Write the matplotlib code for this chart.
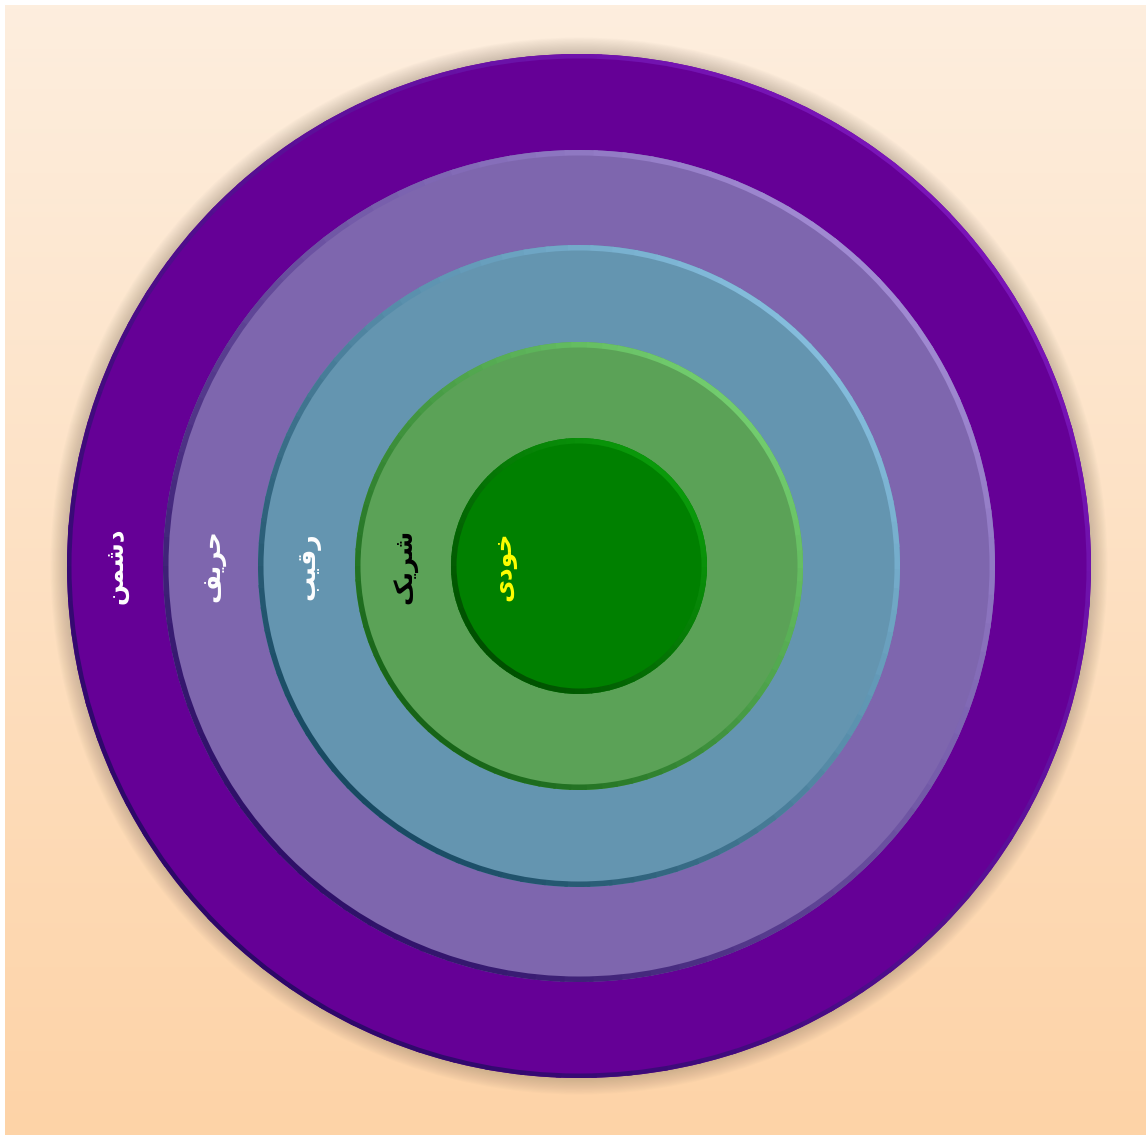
import numpy as np
import matplotlib.pyplot as plt
from matplotlib.patches import Circle, Wedge
from matplotlib.colors import to_rgb

# rings from outermost to innermost
ring_names = ["دشمن", "حریف", "رقیب", "شریک", "خودی"]
# Arabic presentation forms in visual (left-to-right) order, since matplotlib does no shaping
ring_glyphs = [
    "\uFEE6\uFEE4\uFEB7\uFEA9",   # دشمن
    "\uFED2\uFEF3\uFEAE\uFEA3",   # حریف
    "\uFE90\uFEF4\uFED7\uFEAD",   # رقیب
    "\uFB8F\uFEF3\uFEAE\uFEB7",   # شریک
    "\uFBFC\uFEA9\uFEEE\uFEA7",   # خودی
]
ring_radius = [512, 416, 321, 224, 128]
label_radius = [462, 366, 271, 174, 75]
fill_colors = ["#650096", "#7E66AE", "#6495B0", "#5BA257", "#008000"]
rim_light = ["#7A14B8", "#A08AD2", "#84BCDC", "#72CC6E", "#0A9A0A"]
rim_dark = ["#2C0868", "#2E1068", "#184A62", "#176417", "#005000"]
label_colors = ["white", "white", "white", "black", "#FFFF00"]

W, H = 1148, 1137
cx, cy = 579, 566

fig = plt.figure(figsize=(W / 100, H / 100), dpi=100)
fig.patch.set_facecolor("white")
ax = fig.add_axes([0, 0, 1, 1])
ax.set_xlim(0, W)
ax.set_ylim(H, 0)
ax.set_aspect("equal")
ax.axis("off")

# peach background, lighter at the top
top, bottom = np.array(to_rgb("#FDEEDE")), np.array(to_rgb("#FDD3A7"))
t = np.linspace(0, 1, 256)[:, None]
grad = (top * (1 - t) + bottom * t)[:, None, :]
ax.imshow(grad, extent=[5, W - 2, H - 2, 5], aspect="auto", zorder=0)

# soft shadow around the outer disk
for k in range(15, 0, -1):
    ax.add_patch(Circle((cx, cy), ring_radius[0] + k * 1.1,
                        color="#8A7A6A", alpha=0.028, lw=0, zorder=1))


def rim_color(theta_deg, light, dark):
    # light toward upper-right, dark toward lower-left (y axis points down)
    w = 0.5 * (1 + np.cos(np.radians(theta_deg + 45)))
    l, d = np.array(to_rgb(light)), np.array(to_rgb(dark))
    return tuple(d * (1 - w) + l * w)


for i, r in enumerate(ring_radius):
    z = 2 + i * 2
    ax.add_patch(Circle((cx, cy), r, color=fill_colors[i], lw=0, zorder=z))
    rim_w = 7 if i else 6
    step = 4
    for a in range(0, 360, step):
        mid = a + step / 2
        ax.add_patch(Wedge((cx, cy), r, a, a + step + 0.6, width=rim_w,
                           color=rim_color(mid, rim_light[i], rim_dark[i]),
                           lw=0, zorder=z + 0.5))
    # flat inner face so the rim reads as a bevel
    ax.add_patch(Circle((cx, cy), r - rim_w + 1.5, color=fill_colors[i],
                        lw=0, zorder=z + 0.6))

for i, glyphs in enumerate(ring_glyphs):
    ax.text(cx - label_radius[i], cy, glyphs, rotation=90,
            ha="center", va="center", fontsize=18, fontweight="bold",
            color=label_colors[i], family=["DejaVu Sans"], zorder=20)

fig.savefig("out.png", dpi=100)
